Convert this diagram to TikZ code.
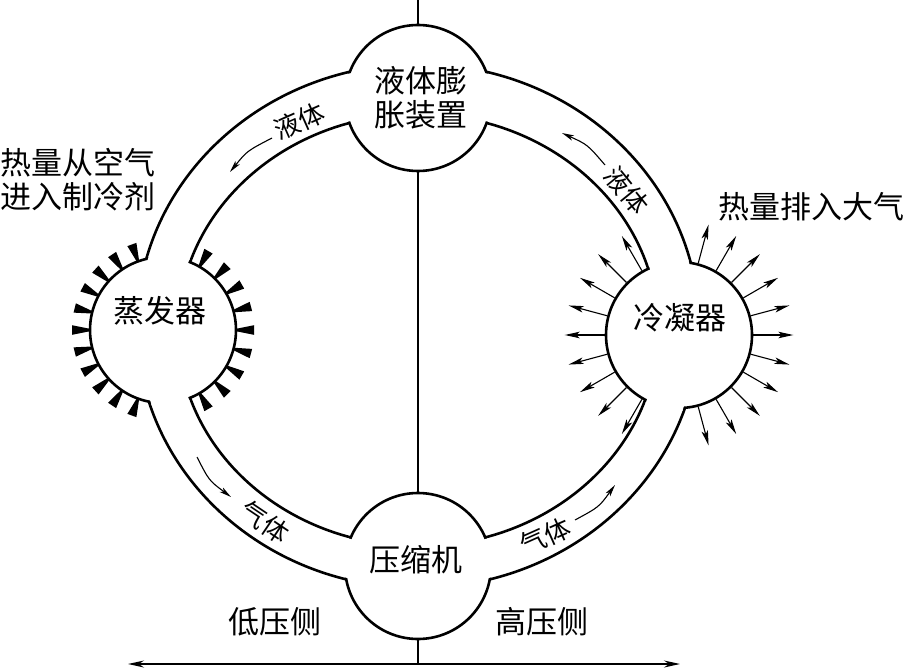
\documentclass[tikz,border=0pt]{standalone}
\usepackage{fontspec}
\newfontfamily\cjk{Noto Sans CJK SC}
\usetikzlibrary{arrows.meta}
\begin{document}
\begin{tikzpicture}[x=1pt,y=-1pt,
  unit/.style={circle, draw, line width=2.6pt, fill=white, minimum size=146pt, inner sep=0pt},
  pipe/.style={line width=2.6pt},
  lbl/.style={font=\cjk\fontsize{31pt}{34pt}\selectfont, inner sep=0pt, align=center},
  plbl/.style={font=\cjk\fontsize{26pt}{28pt}\selectfont, inner sep=0pt},
  harrow/.style={line width=1.1pt, -{Stealth[length=15pt,width=6.5pt,inset=3.5pt]}},
  parrow/.style={line width=1.1pt, -{Stealth[length=12pt,width=5.5pt,inset=3pt]}},
  tickmark/.style={fill=black},
  axisline/.style={line width=1.6pt, {Stealth[length=16pt,width=7pt]}-{Stealth[length=16pt,width=7pt]}},
  vline/.style={line width=2pt}
]
\useasboundingbox (0,0) rectangle (909,671);
% pipe walls
\draw[pipe] (418,326) ellipse [x radius=281pt, y radius=262pt];
\draw[pipe] (418,330) ellipse [x radius=240pt, y radius=216pt];
% units
\node[unit] (exp) at (418,98) {};
\node[unit] (comp) at (418,566) {};
\node[unit] (evap) at (163,330) {};
\node[unit] (cond) at (679,335) {};
% open the pipe into the units
\begin{scope}
\clip (418,98) circle [radius=76pt] (418,566) circle [radius=76pt] (163,330) circle [radius=76pt] (679,335) circle [radius=76pt];
\fill[white, even odd rule] (418,326) ellipse [x radius=279.4pt, y radius=260.4pt] (418,330) ellipse [x radius=241.6pt, y radius=217.6pt];
\end{scope}
% vertical divider and axis
\coordinate (vtop) at (418,0);
\coordinate (vbot) at (418,664);
\coordinate (axl) at (128,664);
\coordinate (axr) at (680,664);
\draw[vline] (vtop) -- (exp.north);
\draw[vline] (exp.south) -- (comp.north);
\draw[vline] (comp.south) -- (vbot);
\draw[axisline] (axl) -- (axr);
% evaporator fins
\foreach \a in {110,124,...,250}
  \fill[tickmark, shift={(evap.center)}, rotate=\a] (73pt,-1.2pt) -- (91pt,-4.8pt) -- (91pt,4.8pt) -- (73pt,1.2pt) -- cycle;
\foreach \a in {-60,-45,...,60}
  \fill[tickmark, shift={(evap.center)}, rotate=\a] (73pt,-1.2pt) -- (91pt,-4.8pt) -- (91pt,4.8pt) -- (73pt,1.2pt) -- cycle;
% condenser heat arrows
\foreach \a in {120,135,...,240}
  \draw[harrow] (cond.\a) -- ++(\a:40pt);
\foreach \a in {-75,-60,...,75}
  \draw[harrow] (cond.\a) -- ++(\a:40pt);
% unit labels
\node[lbl] (expt) at (421,98) {液体膨\\胀装置};
\node[lbl] (compt) at (416,560) {压缩机};
\node[lbl] (evapt) at (160,311) {蒸发器};
\node[lbl] (condt) at (680,318) {冷凝器};
\node[lbl, anchor=west, align=left] (inL) at (0,180) {热量从空气\\进入制冷剂};
\node[lbl, anchor=west] (outR) at (718,207) {热量排入大气};
\node[lbl] (low) at (275,622) {低压侧};
\node[lbl] (high) at (542,622) {高压侧};
% pipe labels
\node[plbl, rotate=24] (l1) at (299,121) {液体};
\node[plbl, rotate=-51] (l2) at (627,190) {液体};
\node[plbl, rotate=-34] (g1) at (265,522) {气体};
\node[plbl, rotate=24] (g2) at (545,536) {气体};
% flow arrows
\coordinate (a1s) at (272,138); \coordinate (a1e) at (230,172);
\coordinate (a2s) at (605,165); \coordinate (a2e) at (562,133);
\coordinate (a3s) at (197,457); \coordinate (a3e) at (231,497);
\coordinate (a4s) at (575,520); \coordinate (a4e) at (615,485);
\draw[parrow] (a1s) .. controls (247,151) .. (a1e);
\draw[parrow] (a2s) .. controls (587.5,144.6) .. (a2e);
\draw[parrow] (a3s) .. controls (209,480.5) .. (a3e);
\draw[parrow] (a4s) .. controls (599,507) .. (a4e);
\end{tikzpicture}
\end{document}
